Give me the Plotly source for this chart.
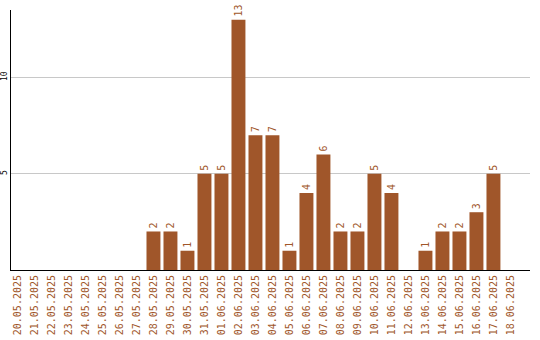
import plotly.graph_objects as go

dates = ["20.05.2025","21.05.2025","22.05.2025","23.05.2025","24.05.2025","25.05.2025",
         "26.05.2025","27.05.2025","28.05.2025","29.05.2025","30.05.2025","31.05.2025",
         "01.06.2025","02.06.2025","03.06.2025","04.06.2025","05.06.2025","06.06.2025",
         "07.06.2025","08.06.2025","09.06.2025","10.06.2025","11.06.2025","12.06.2025",
         "13.06.2025","14.06.2025","15.06.2025","16.06.2025","17.06.2025","18.06.2025"]
counts = [0,0,0,0,0,0,0,0,2,2,1,5,5,13,7,7,1,4,6,2,2,5,4,0,1,2,2,3,5,0]
y_ticks = [5, 10]

color = "#A0562A"
font = "DejaVu Sans Mono"

fig = go.Figure(go.Bar(
    x=list(range(len(dates))),
    y=counts,
    marker=dict(color=color, line=dict(width=0)),
    text=[str(v) if v else "" for v in counts],
    textposition="outside",
    textangle=-90,
    textfont=dict(family=font, size=10, color=color),
    cliponaxis=False,
    constraintext="none",
))

fig.update_layout(
    width=540, height=340,
    margin=dict(l=11, r=10, t=10, b=70),
    paper_bgcolor="white", plot_bgcolor="white",
    bargap=0.18,
    showlegend=False,
)
fig.update_xaxes(
    tickmode="array", tickvals=list(range(len(dates))), ticktext=dates,
    tickangle=-90, tickfont=dict(family=font, size=10, color=color),
    range=[-0.38, 30.15], showgrid=False, showline=True, linecolor="black",
    linewidth=1, ticks="", zeroline=False, automargin=False,
)
fig.update_yaxes(
    tickmode="array", tickvals=y_ticks, ticktext=[str(t) for t in y_ticks],
    tickangle=-90, tickfont=dict(family=font, size=8, color="black"),
    range=[0, 13.5], showgrid=True, gridcolor="#c8c8c8", gridwidth=1,
    showline=True, linecolor="black", linewidth=1, ticks="", zeroline=False,
    ticklabelstandoff=0, automargin=False,
)

fig.write_html("out.html")
